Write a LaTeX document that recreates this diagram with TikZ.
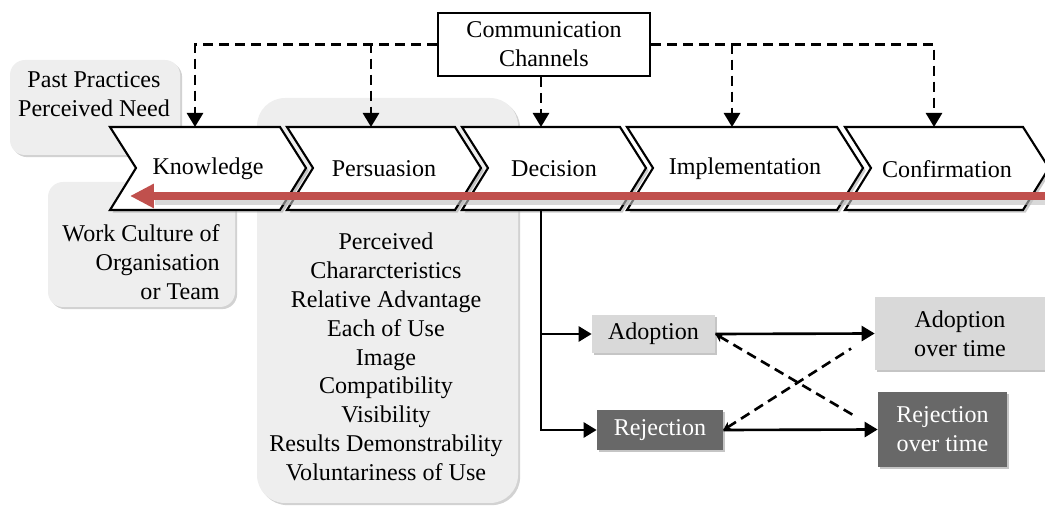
\documentclass[tikz,border=0pt]{standalone}
\usepackage{fontspec}
\setmainfont{Liberation Serif}
\usetikzlibrary{arrows.meta, shadows}
\definecolor{softgray}{HTML}{EEEEEE}
\definecolor{adoptgray}{HTML}{D9D9D9}
\definecolor{rejectgray}{HTML}{686868}
\definecolor{trailred}{HTML}{C0504D}
\begin{document}
\begin{tikzpicture}[x=0.02cm, y=-0.02cm,
    every node/.style={font=\fontsize{13.7}{16.4}\selectfont},
    softbox/.style={fill=softgray, rounded corners=0.3cm, drop shadow={shadow xshift=1.2pt, shadow yshift=-1.2pt, fill=black!35}},
    stage/.style={draw=black, line width=1.2pt, fill=white, drop shadow={shadow xshift=1.5pt, shadow yshift=-1.5pt, fill=black!40}},
    channel/.style={draw=black, line width=1.4pt, fill=white, minimum width=4.24cm, minimum height=1.26cm, inner sep=2pt, align=center},
    feed/.style={line width=1.5pt, dash pattern=on 0.2cm off 0.12cm, -{Triangle[length=0.28cm, width=0.32cm]}},
    flow/.style={line width=1.5pt, -{Triangle[length=0.26cm, width=0.3cm]}},
    swap/.style={line width=1.5pt, dash pattern=on 0.2cm off 0.12cm, {Stealth[length=0.16cm, width=0.18cm]}-},
    outcome/.style={fill=adoptgray, inner sep=2pt, align=center, drop shadow={shadow xshift=1.2pt, shadow yshift=-1.2pt, fill=black!45}},
    darkout/.style={outcome, fill=rejectgray, text=white}]
  \useasboundingbox (0,0) rectangle (1045,506);
  \clip (0,0) rectangle (1045,506);
  % context boxes behind the stages
  \path[softbox] (10,60) rectangle (180,155);
  \path[softbox] (48,182) rectangle (235,307);
  \path[softbox, rounded corners=0.56cm] (257,98) rectangle (518,503);
  % the five stages
  \foreach \id/\xa/\xb/\txt in {know/110/280/Knowledge, pers/287/455/Persuasion, deci/462/620/Decision, impl/627/837/Implementation, conf/845/1023/Confirmation} {
    \draw[stage] (\xa,127) -- (\xb,127) -- (\xb+26,168) -- (\xb,210) -- (\xa,210) -- (\xa+26,168) -- cycle;
    \node (\id) at ({(\xa+\xb+26)/2},169) {\txt};
    \coordinate (\id-top) at ({(\xa+\xb)/2},127);
  }
  \coordinate (deci-bot) at (541,210);
  % feedback trail
  \coordinate (trail-start) at (1045,196);
  \coordinate (trail-end) at (130,196);
  \draw[line width=0.16cm, black!25, opacity=0.6, shorten >=0.5cm] ([yshift=-3pt]trail-start) -- ([yshift=-3pt]trail-end);
  \draw[line width=0.16cm, trailred, -{Triangle[length=0.48cm, width=0.46cm]}] (trail-start) -- (trail-end);
  % texts of the context boxes
  \node[align=center] (past) at (94,94) {Past Practices\\Perceived Need};
  \node[align=right, anchor=east, inner sep=0pt] (culture) at (220,262) {Work Culture of\\Organisation\\or Team};
  \node[align=center] (traits) at (386,357) {Perceived\\Chararcteristics\\Relative Advantage\\Each of Use\\Image\\Compatibility\\Visibility\\Results Demonstrability\\Voluntariness of Use};
  % communication channels
  \node[channel] (comm) at (544,44.5) {Communication\\Channels};
  \draw[feed] (comm.west) -| (know-top);
  \draw[feed] (comm.west) -| (pers-top);
  \draw[feed] (deci-top |- comm.south) -- (deci-top);
  \draw[feed] (comm.east) -| (impl-top);
  \draw[feed] (comm.east) -| (conf-top);
  % outcomes of the decision
  \node[outcome, minimum width=2.46cm, minimum height=0.76cm] (adop) at (653.5,334) {Adoption};
  \node[darkout, minimum width=2.52cm, minimum height=0.8cm] (reje) at (660,430) {Rejection};
  \node[outcome, minimum width=3.4cm, minimum height=1.46cm] (adopt) at (960,333.5) {Adoption\\over time};
  \node[darkout, minimum width=2.58cm, minimum height=1.5cm] (rejet) at (942.5,429.5) {Rejection\\over time};
  \draw[flow] (deci-bot) |- (adop.west);
  \draw[flow] (deci-bot) |- (reje.west);
  \draw[flow] (adop.east) -- (adopt.west);
  \draw[flow] (reje.east) -- (rejet.west);
  \draw[swap, shorten >=0.56cm] (adop.east) -- (rejet.west);
  \draw[swap, shorten >=0.56cm] (reje.east) -- (adopt.west);
\end{tikzpicture}
\end{document}
